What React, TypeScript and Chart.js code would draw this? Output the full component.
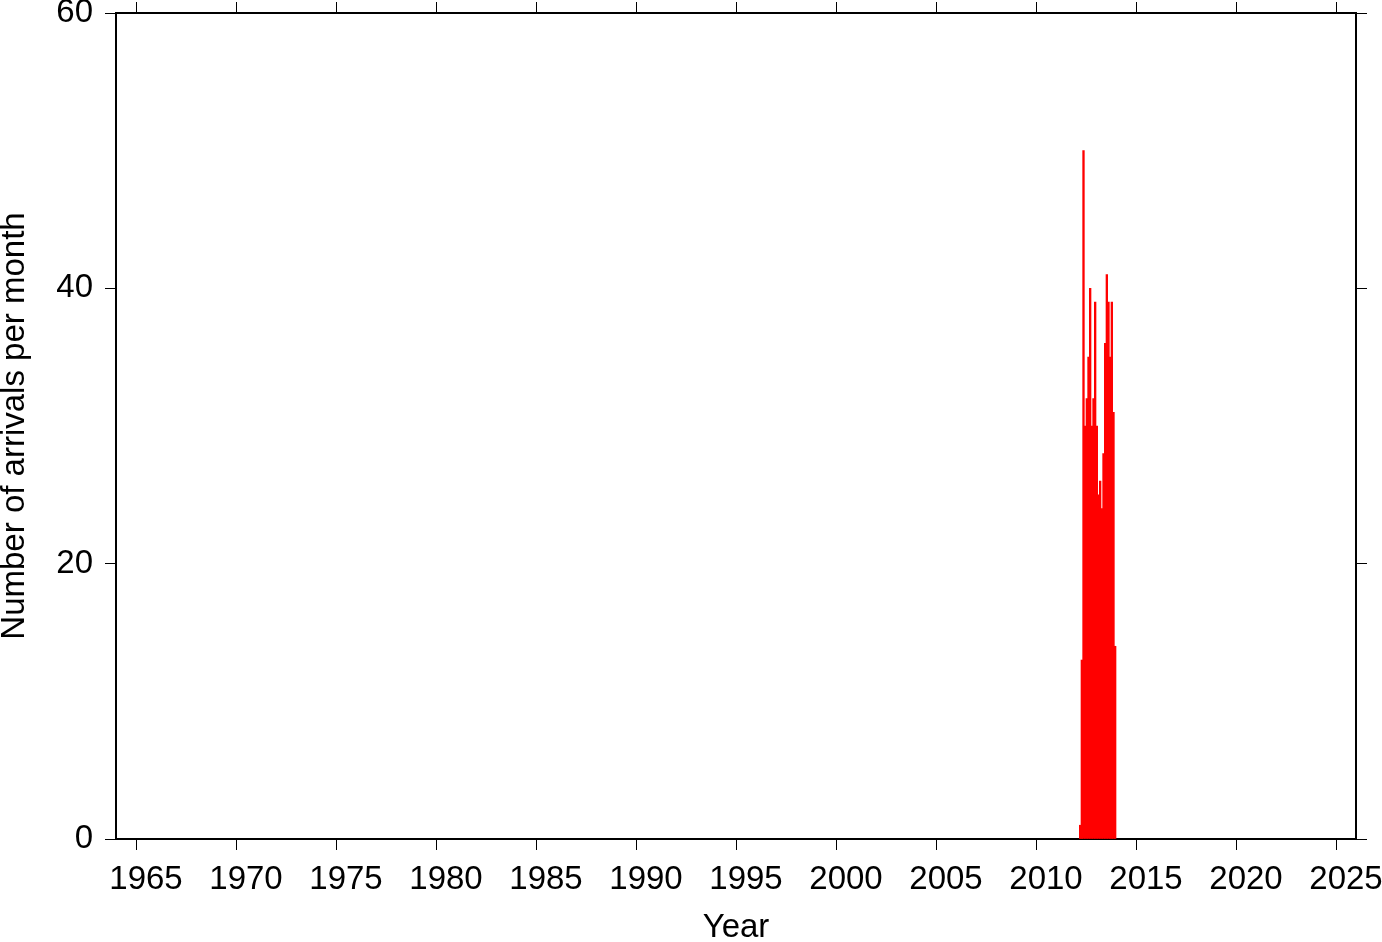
import React, { useEffect, useRef } from "react";
import { Chart, registerables } from "chart.js";

Chart.register(...registerables);

const yearTicks = [1965, 1970, 1975, 1980, 1985, 1990, 1995, 2000, 2005, 2010, 2015, 2020, 2025];
const countTicks = [0, 20, 40, 60];
const months = [
  "2012-03", "2012-04", "2012-05", "2012-06", "2012-07", "2012-08", "2012-09", "2012-10", "2012-11", "2012-12",
  "2013-01", "2013-02", "2013-03", "2013-04", "2013-05", "2013-06", "2013-07", "2013-08", "2013-09", "2013-10", "2013-11", "2013-12",
];
const arrivals = [1, 13, 50, 30, 32, 35, 40, 30, 32, 39, 30, 25, 26, 24, 28, 36, 41, 39, 35, 39, 31, 14];

const FONT = "'Liberation Sans', Arial, Helvetica, sans-serif";

function monthToYear(m: string): number {
  const [y, mo] = m.split("-").map(Number);
  return y + (mo - 0.5) / 12;
}

export default function App() {
  const ref = useRef<HTMLCanvasElement | null>(null);

  useEffect(() => {
    document.body.style.margin = "0";
    const canvas = ref.current;
    if (!canvas) return;
    const tickFont = { family: FONT, size: 33 };
    const titleFont = { family: FONT, size: 33, lineHeight: 1 };
    const gridCommon = {
      drawOnChartArea: false,
      drawTicks: true,
      tickLength: 11,
      tickColor: "#000",
      tickWidth: 1,
      offset: false,
    };
    const border = { display: true, color: "#000", width: 2 };
    const setYearTicks = (s: any) => {
      s.ticks = yearTicks.map((v) => ({ value: v }));
    };
    const setCountTicks = (s: any) => {
      s.ticks = countTicks.map((v) => ({ value: v }));
    };
    const noPad = (s: any) => {
      s.paddingTop = 0;
      s.paddingBottom = 0;
      s.paddingLeft = 0;
      s.paddingRight = 0;
    };
    const chart = new Chart(canvas, {
      type: "bar",
      data: {
        datasets: [
          {
            data: months.map((m, i) => ({ x: monthToYear(m), y: arrivals[i] })),
            backgroundColor: "#ff0000",
            borderWidth: 0,
            barPercentage: 1,
            categoryPercentage: 1,
            xAxisID: "x",
            yAxisID: "y",
          },
        ],
      },
      options: {
        responsive: false,
        animation: false,
        events: [],
        layout: { padding: 0 },
        plugins: { legend: { display: false }, tooltip: { enabled: false } },
        scales: {
          x: {
            type: "linear",
            position: "bottom",
            min: 1964,
            max: 2026,
            offset: false,
            grid: gridCommon,
            border,
            afterBuildTicks: setYearTicks,
            afterFit: (s: any) => {
              s.height = 103;
              noPad(s);
            },
            ticks: {
              color: "#000",
              font: tickFont,
              padding: 10,
              labelOffset: 10,
              maxRotation: 0,
              autoSkip: false,
              callback: (v: any) => String(v),
            },
            title: {
              display: true,
              text: "Year",
              color: "#000",
              font: titleFont,
              padding: { top: 0, bottom: -2 },
            },
          },
          x2: {
            type: "linear",
            position: "top",
            min: 1964,
            max: 2026,
            offset: false,
            grid: gridCommon,
            border,
            afterBuildTicks: setYearTicks,
            afterFit: (s: any) => {
              s.height = 13;
              noPad(s);
            },
            ticks: { display: false },
          },
          y: {
            type: "linear",
            position: "left",
            min: 0,
            max: 60,
            grid: gridCommon,
            border,
            afterBuildTicks: setCountTicks,
            afterFit: (s: any) => {
              s.width = 116;
              noPad(s);
            },
            ticks: {
              color: "#000",
              font: tickFont,
              padding: 12,
              autoSkip: false,
            },
            title: {
              display: true,
              text: "Number of arrivals per month",
              color: "#000",
              font: titleFont,
              padding: { top: -2, bottom: 0 },
            },
          },
          y2: {
            type: "linear",
            position: "right",
            min: 0,
            max: 60,
            grid: gridCommon,
            border,
            afterBuildTicks: setCountTicks,
            afterFit: (s: any) => {
              s.width = 26;
              noPad(s);
            },
            ticks: { display: false },
          },
        },
      } as any,
    });
    return () => chart.destroy();
  }, []);

  return (
    <div style={{ width: 1382, height: 942, background: "#fff" }}>
      <canvas ref={ref} width={1382} height={942} style={{ display: "block" }} />
    </div>
  );
}
